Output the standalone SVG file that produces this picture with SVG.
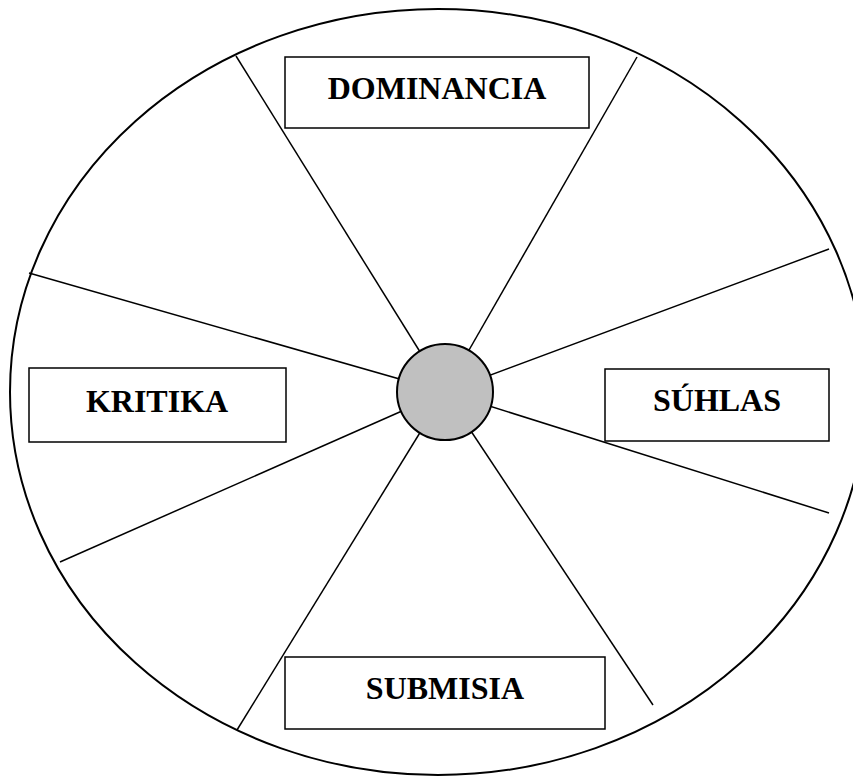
<svg xmlns="http://www.w3.org/2000/svg" width="853" height="776" viewBox="0 0 853 776">
<style>
.ln{stroke:#000;stroke-width:1.5;fill:none}
.box{fill:#fff;stroke:#000;stroke-width:1.5}
.lbl{font-family:"Liberation Serif","Times New Roman",serif;font-weight:bold;font-size:32px;text-anchor:middle;fill:#000}
</style>
<rect width="853" height="776" fill="#fff"/>
<ellipse id="outer" cx="438" cy="392" rx="428" ry="383" fill="none" stroke="#000" stroke-width="2"/>
<g id="connectors">
<line class="ln" x1="445" y1="392" x2="236" y2="56"/>
<line class="ln" x1="445" y1="392" x2="637" y2="57"/>
<line class="ln" x1="445" y1="392" x2="29" y2="273"/>
<line class="ln" x1="445" y1="392" x2="829" y2="249"/>
<line class="ln" x1="445" y1="392" x2="60" y2="562"/>
<line class="ln" x1="445" y1="392" x2="829" y2="513"/>
<line class="ln" x1="445" y1="392" x2="237" y2="730"/>
<line class="ln" x1="445" y1="392" x2="653" y2="705"/>
</g>
<g id="center"><circle cx="445" cy="392" r="48" fill="#c0c0c0" stroke="#000" stroke-width="2"/></g>
<g id="dominancia"><rect class="box" x="285" y="57" width="304" height="71"/><text class="lbl" x="437" y="99">DOMINANCIA</text></g>
<g id="kritika"><rect class="box" x="29" y="368" width="257" height="74"/><text class="lbl" x="157" y="412">KRITIKA</text></g>
<g id="suhlas"><rect class="box" x="605" y="369" width="224" height="72"/><text class="lbl" x="717" y="411">SÚHLAS</text></g>
<g id="submisia"><rect class="box" x="285" y="657" width="320" height="72"/><text class="lbl" x="445" y="699">SUBMISIA</text></g>
</svg>
